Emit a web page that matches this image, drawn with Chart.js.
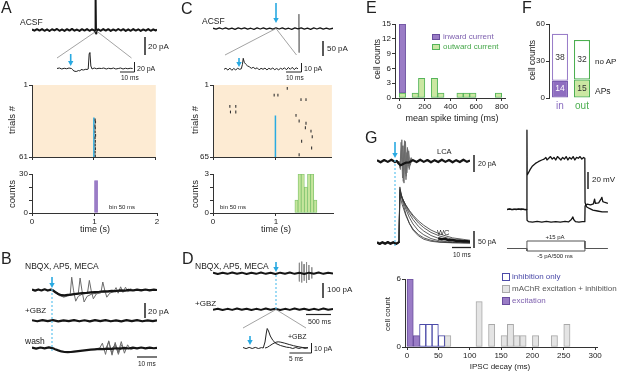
<!DOCTYPE html>
<html><head><meta charset="utf-8">
<script src="https://cdn.jsdelivr.net/npm/chart.js@4.4.1/dist/chart.umd.min.js"></script>
<style>
html,body{margin:0;padding:0;background:#fff;}
#root{position:relative;width:617px;height:375px;overflow:hidden;background:#fff;font-family:'Liberation Sans',Arial,Helvetica,sans-serif;color:#222;}
#root canvas{position:absolute;}
.t{position:absolute;white-space:nowrap;line-height:1;}
</style></head><body><div id="root"></div>
<script>
// ================= DATA =================
// ---- Panel A (ACSF, inward-current cell) ----
const aTrace = [[0,0.5],[0.04,-0.8],[0.08,0.9],[0.12,-0.6],[0.16,1.0],[0.2,-0.9],[0.24,0.7],[0.28,-1.1],[0.32,0.8],[0.36,-0.5],[0.40,1.1],[0.44,-0.9],[0.48,0.6],[0.52,-1.0],[0.56,0.9],[0.60,-0.7],[0.64,1.2],[0.68,-0.8],[0.72,0.5],[0.76,-1.0],[0.80,0.9],[0.84,-0.6],[0.88,1.0],[0.92,-0.9],[0.96,0.7],[1.0,-0.8],[1.01,-1.5],[1.015,-3],[1.02,36],[1.024,-4],[1.03,-1.5],[1.06,0.8],[1.10,-0.9],[1.14,1.0],[1.18,-0.7],[1.22,0.9],[1.26,-1.0],[1.30,0.6],[1.34,-0.8],[1.38,1.1],[1.42,-0.6],[1.46,0.9],[1.50,-1.0],[1.54,0.7],[1.58,-0.9],[1.62,1.0],[1.66,-0.7],[1.70,0.8],[1.74,-1.0],[1.78,0.6],[1.82,-0.8],[1.86,1.0],[1.90,-0.9],[1.94,0.7],[1.98,-0.6],[2.0,0.4]];
const aInset = [[0,0],[2,1],[4,-1],[6,0.5],[8,-0.5],[10,1],[12,0],[13,-2],[14,-5],[16,-6],[18,-4],[19,-5],[20,-2],[22,-3],[24,-1.5],[25,-2],[26,-1],[26.8,30],[27.4,32],[28.2,5],[29.2,-1],[31,1],[33,-0.5],[35,0.5],[37,0],[39,1],[41,-1],[43,0.5],[45,-0.5],[47,1],[49,-1],[51,0],[53,1],[55,-1],[57,0.5],[59,-0.5],[61,0.5],[63,0]];
const aStimTrials = [28, 61];
const aSpikeTimes = [1.02,1.025,1.018,1.022,1.02,1.026,1.019,1.023,1.021,1.024,1.02,1.022];
const aSpikeTrials = [30,32,35,37,40,43,45,48,51,54,57,60];
const aBinCenters = [0.975,1.025,1.075];
const aCounts = [0,25,0];
const rasterTicksA = [1,61];
const timeTicks = [0,1,2];
const countTicksA = [0,10,20,30];

// ---- Panel B ----
const bMean = [[0,0.6],[1.5,-0.8],[3,0.7],[4.5,-0.6],[6,0.9],[7.5,-0.7],[9,0.5],[10,-0.5],[11,-2.5],[12.5,-5],[14,-6.5],[15.5,-6.8],[17,-6.2],[18.5,-5.8],[20,-5.2],[22,-4.6],[24,-4],[26,-3.6],[28,-3],[30,-2.6],[32,-2.2],[34,-1.6],[36,-1.8],[38,-1],[40,-1.3],[42,-0.4],[44,-0.9],[46,0.2],[48,-0.6],[50,0.5],[52,-0.5],[54,0.6],[56,-0.4],[58,0.5],[59.5,0]];
const bSweepA = [[9.5,0],[11,-3],[13,-7],[15,-8],[16.8,-6],[18.2,-5],[18.9,16],[19.8,-1],[20.8,-14],[22,-8],[24,-5],[26.4,-4],[27.3,12],[28.2,-1],[29.2,-11],[30.6,-5],[33,-3],[36,-2],[39,-1.5],[42,-1],[46,-0.5],[50,0],[55,0.5],[59.5,0]];
const bSweepB = [[9.5,0],[11,-2],[13,-6],[15,-9],[17,-7.5],[19,-6],[22,-5],[22.9,15],[23.8,-1],[24.8,-15],[26.2,-8],[28.5,-5],[31,-4],[32.8,-3.5],[33.7,10],[34.6,0],[35.6,-9],[37,-4],[39,-2],[42,-1.5],[46,-1],[50,0],[54,0.5],[59.5,0]];
const bSweepC = [[9.5,0],[11,-2],[13,-5],[15,-7],[17,-6.5],[20,-5],[24,-4],[28,-3.5],[32,-3],[36,-2.5],[39,-2],[40,3],[41,-4],[42.2,4],[43.3,-3],[44.5,3.5],[45.6,-2],[47,1.5],[48.5,-1],[51,0],[55,0.3],[59.5,0]];
const bGBZ = [[0,0.6],[2.5,-0.7],[5,0.8],[7.5,-0.5],[10,0.7],[12.5,-0.8],[15,0.5],[17.5,-0.6],[20,0.8],[22.5,-0.7],[25,0.6],[27.5,-0.8],[30,0.7],[32.5,-0.5],[35,0.8],[37.5,-0.7],[40,0.5],[42.5,-0.8],[45,0.7],[47.5,-0.6],[50,0.8],[52.5,-0.7],[55,0.5],[57.5,-0.6],[59.5,0.4]];
const bWash = [[0,0.5],[2,-0.7],[4,0.6],[6,-0.5],[8,0.7],[10,-0.4],[11,-1.5],[12.5,-3],[14,-4.3],[15.5,-5],[17,-5.2],[18.5,-5],[20,-4.5],[22,-3.8],[24,-3.2],[26,-2.6],[28,-2],[30,-1.6],[32,-1.2],[34,-1.4],[36,-0.7],[38,-1],[40,-0.3],[42,-0.8],[44,0.2],[46,-0.6],[48,0.4],[50,-0.5],[52,0.6],[54,-0.4],[56,0.5],[58,-0.3],[59.5,0.2]];
const bWashA = [[30,-1.5],[32,-1.2],[33.5,6],[35,-8],[36.5,9],[38,-7],[39.5,5],[41,-3],[43,0],[46,-0.5]];
const bWashB = [[33,-1],[35,-1.4],[36.6,8],[38.1,-9],[39.6,7],[41.1,-8],[42.6,4],[44.1,-2],[46,0]];
const bWashC = [[36,-1],[38,-0.8],[39.5,4],[41,-6],[42.5,8],[44,-6.5],[45.5,4],[47,-2],[49,0]];

// ---- Panel C (outward-current cell) ----
const cTrace = [[0,1],[0.05,-2],[0.1,2],[0.15,-1.5],[0.2,2.5],[0.25,-2],[0.3,1.5],[0.35,-2.5],[0.4,2],[0.45,-1],[0.5,2.5],[0.55,-2],[0.6,1],[0.65,-2.5],[0.7,2],[0.75,-1.5],[0.8,2.5],[0.85,-2],[0.9,1.5],[0.95,-2],[1.0,2],[1.05,-1.5],[1.1,2.5],[1.15,-2],[1.2,1],[1.25,-2.5],[1.3,2],[1.35,-1],[1.4,2.5],[1.45,-2],[1.5,1.5],[1.55,-2.5],[1.6,2],[1.65,-1.5],[1.7,2.5],[1.75,-2],[1.8,1.5],[1.85,-2],[1.905,1]];
const cSpike = [[1.362,0],[1.364,48],[1.366,-80],[1.368,0]];
const cInset = [[0,0],[1.5,1],[3,-0.8],[4.5,1.2],[6,-1],[7.5,0.8],[9,-0.6],[10.5,1],[12,0],[13.3,0.5],[14.2,5],[14.8,11],[15.6,7],[16.8,5],[18,3.5],[19.5,2.5],[21,1],[22.5,2],[24,0.5],[25.5,1.5],[27,-0.5],[28.5,1],[30,0],[31.5,1.2],[33,-0.6],[34.5,1],[36,0],[37.5,1.3],[39,-0.4],[40.5,0.8],[42,-0.5],[43.5,1],[45,0],[46.5,1.5],[48,-0.5],[49.5,1.8],[51,0],[52.5,2],[54,-0.3],[55.5,1.5],[56.9,0.5]];
const cStimTrials = [28, 65];
const cSpikeTimes = [0.27,0.365,0.28,0.365,0.98,1.04,1.19,1.41,1.49,1.33,1.38,1.49,1.48,1.57,1.59,1.42,1.58,1.38];
const cSpikeTrials = [20,20,25,25,10,10,4,14,14,28,33,35,39,42,47,51,57,63];
const cBinCenters = [1.325,1.375,1.425,1.475,1.525,1.575,1.625];
const cCounts = [1,3,3,2,3,3,1];
const rasterTicksC = [1,65];
const timeTicksC = [0,1];
const countTicksC = [0,1,2,3];

// ---- Panel D ----
const dTrace = [[0,4],[0.1,-5],[0.2,3],[0.3,-4],[0.4,5],[0.5,-3],[0.6,4],[0.7,-5],[0.8,3],[0.9,-4],[1.0,5],[1.1,-4],[1.2,3],[1.3,-5],[1.4,4],[1.5,-3],[1.6,5],[1.7,-4],[1.8,3],[1.9,-5],[2.0,4],[2.1,-3],[2.2,5],[2.3,-4],[2.4,3],[2.5,-2]];
const dSpikes = [[1.795,0],[1.797,70],[1.799,-55],[1.801,0],[1.845,0],[1.847,78],[1.849,-62],[1.851,0],[1.895,0],[1.897,60],[1.899,-50],[1.901,0],[1.945,0],[1.947,75],[1.949,-65],[1.951,0],[1.995,0],[1.997,55],[1.999,-45],[2.001,0],[2.055,0],[2.057,40],[2.059,-35],[2.061,0]];
const dGBZ = [[0,-3],[0.1,4],[0.2,-5],[0.3,3],[0.4,-4],[0.5,5],[0.6,-3],[0.7,4],[0.8,-5],[0.9,3],[1.0,-4],[1.1,5],[1.2,-3],[1.3,4],[1.4,-5],[1.5,3],[1.6,-4],[1.7,5],[1.8,-3],[1.9,4],[2.0,-5],[2.1,3],[2.2,-4],[2.3,5],[2.4,-3],[2.5,2]];
const dInsetCtrl = [[0,0.5],[0.7,-0.6],[1.4,0.6],[2.1,-0.5],[2.8,0.6],[3.5,-0.5],[4.2,0.4],[4.6,0],[5.0,6],[5.3,15],[5.5,19.5],[5.8,17],[6.2,12],[6.8,7.5],[7.5,4.5],[8.5,2.5],[9.9,0.8],[10.6,0.5],[11.3,-0.5],[12,0.5],[12.7,-0.5],[13.4,0.4],[14.1,-0.4],[14.77,0.3]];
const dInsetGBZ = [[5.0,0],[5.5,0.6],[6,2],[6.8,4.3],[7.5,5.8],[8,6.2],[8.6,5.8],[9.5,4.8],[10.5,3.5],[11.5,2.3],[12.5,1.3],[13.6,0.5],[14.77,0.2]];

// ---- Panel E ----
const eBins = [25,125,175,275,325,475,525,575,775];
const eOutward = [1,1,4,4,1,1,1,1,1];
const eInward = [14,null,null,null,null,null,null,null,null];
const eXTicks = [0,200,400,600,800];
const eYTicks = [0,3,6,9,12,15];

// ---- Panel F ----
const fCats = ['in','out'];
const fAPs = [14,15];
const fNoAP = [38,32];
const fYTicks = [0,30,60];

// ---- Panel G ----
const gLcaBase = [[0,1],[2,-1.5],[4,1.2],[6,-1],[8,1.5],[10,-1.2],[11,0],[12,-3],[13,-5],[14,-4],[15,-3],[16,-2],[18,-1.5],[20,1],[22,-1.2],[24,1.5],[26,-1],[28,1.2],[30,-1.5],[32,1],[34,-1.2],[36,1.5],[38,-1],[40,1.2],[42,-1.5],[44,1],[46,-1.2],[48,1.5],[50,-1],[51.7,0.5]];
const gLca1 = [[12,0],[12.8,-8],[13.4,22],[14.2,-20],[15,18],[15.8,-15],[16.6,10],[17.4,-6],[18.4,2],[20,0]];
const gLca2 = [[12,0],[13,-10],[13.8,25],[14.6,-24],[15.4,20],[16.2,-18],[17,14],[17.8,-8],[18.8,3],[20,0]];
const gLca3 = [[12,0],[13.2,-6],[14.2,18],[15,-26],[15.8,23],[16.6,-14],[17.6,12],[18.5,-5],[19.3,2],[21,0]];
const gLca4 = [[12,0],[12.9,-4],[13.6,15],[14.4,-12],[15.3,24],[16.1,-22],[16.9,16],[17.9,-10],[19,4],[20,0]];
const gWcBase = [[0,2],[1.5,-2.5],[3,2],[4.5,-2],[6,2.5],[7.5,-2],[9,2],[10.5,-2.5],[12,1.5],[12.3,0]];
const gWcTail = [[34,14],[36,11],[38,12],[40,8],[42,9],[44,6],[46,7],[48,5],[50,5],[51.7,4]];
const gWc1 = [[12.2,0],[12.7,165],[14,127],[16,85],[18,57],[20,38],[23,21],[26,11],[30,5],[35,2],[42,0.5],[51.7,0]];
const gWc2 = [[12.2,0],[12.7,160],[14,132],[16,100],[18,75],[20,56],[23,36],[26,24],[30,13],[35,6],[42,2],[51.7,0.5]];
const gWc3 = [[12.2,0],[12.7,155],[14,134],[16,107],[18,86],[20,69],[23,49],[26,35],[30,22],[35,12],[42,5],[51.7,2]];
const gWc4 = [[12.2,0],[12.7,150],[14,133],[16,111],[18,93],[20,78],[23,59],[26,45],[30,31],[35,20],[42,11],[51.7,5]];
const gWc5 = [[12.2,0],[12.7,145],[14,131],[16,112],[18,96],[20,82],[23,65],[26,52],[30,38],[35,26],[42,15],[51.7,8]];
const gWc6 = [[12.2,0],[12.7,140],[14,113],[16,81],[18,58],[20,41],[23,25],[26,15],[30,8],[35,3],[42,1],[51.7,0]];
const gVdep = [[0,-70],[20,-69.4],[40,-70.5],[60,-69.7],[80,-70.4],[100,-69.6],[120,-70.5],[140,-69.8],[160,-70.3],[171,-70],[172,23],[173.5,-30],[185,-27],[200,-23],[220,-19],[245,-16],[270,-14],[300,-12],[320,-11],[335,-9],[345,-12],[360,-10],[375,-8],[390,-11],[405,-9],[420,-12],[435,-8],[450,-10],[465,-12],[480,-9],[495,-11],[510,-8],[525,-12],[540,-9],[555,-11],[570,-8],[585,-12],[600,-9],[615,-10],[630,-8],[645,-11],[660,-9],[671,-10],[673,-62],[685,-67],[710,-69],[740,-71],[780,-72],[820,-73],[870,-73]];
const gVhyp = [[0,-70.3],[25,-69.8],[50,-70.4],[75,-69.7],[100,-70.2],[125,-69.6],[150,-70.3],[171,-70],[173,-83],[185,-84.5],[220,-85],[260,-84.3],[300,-85],[340,-84.2],[380,-85],[420,-84.4],[460,-85],[500,-84.3],[530,-84.8],[555,-82],[568,-79],[575,-82],[590,-84.6],[620,-85],[650,-84.4],[671,-84.6],[673,-66],[690,-64],[720,-64.8],[745,-63.5],[755,-58],[762,-63],[790,-62.5],[810,-58],[818,-56],[826,-61],[845,-62],[870,-63]];
const gIplus = [[0,0],[172,0],[172,15],[672,15],[672,0],[870,0]];
const gIminus = [[172,0],[172,-5],[672,-5],[672,0]];
const gExcX = [5,15];
const gExc = [6,1];
const gInhX = [25,35,45,55];
const gInh = [2,2,2,1];
const gMX = [65,115,135,155,165,175,185,205,235,255];
const gM = [1,4,2,1,2,1,1,1,1,2];
const gXTicks = [0,50,100,150,200,250,300];
const gYTicks = [0,6];

// ================= STYLE / HELPERS =================
const FONT = "'Liberation Sans', Arial, Helvetica, sans-serif";
Chart.defaults.font.family = FONT;
Chart.defaults.font.size = 8;
Chart.defaults.color = '#222';
Chart.defaults.animation = false;
Chart.defaults.responsive = false;
Chart.defaults.maintainAspectRatio = false;
Chart.defaults.devicePixelRatio = 1;
Chart.defaults.events = [];
Chart.defaults.plugins.legend.display = false;
Chart.defaults.plugins.tooltip.enabled = false;
Chart.defaults.elements.point.radius = 0;
Chart.defaults.elements.line.tension = 0;

const PURPLE = '#9a7cc6', PURPLE_D = '#6a4e9e';
const GREEN = '#cbe7a2', GREEN_D = '#55b45a';
const CYAN = '#29abe2', PEACH = '#fdebd3';
const BLACK = '#151515', GREY = '#6a6a6a';
const root = document.getElementById('root');

function mk(box, m, cfg) {
  const c = document.createElement('canvas');
  const W = box.w + m.l + m.r, H = box.h + m.t + m.b;
  c.width = W; c.height = H;
  c.style.cssText = `left:${box.x - m.l}px;top:${box.y - m.t}px;width:${W}px;height:${H}px;`;
  root.appendChild(c);
  return new Chart(c, cfg);
}
const pts = a => a.map(p => ({x: p[0], y: p[1]}));
const ln = (a, color, w, extra) => Object.assign({data: pts(a), borderColor: color, borderWidth: w, pointRadius: 0, fill: false, tension: 0, borderJoinStyle: 'round'}, extra || {});
function trace(box, xr, yr, datasets) {
  return mk(box, {l:0, r:0, t:0, b:0}, {type: 'line', data: {datasets}, options: {
    layout: {padding: 0},
    scales: {x: {type: 'linear', display: false, min: xr[0], max: xr[1]},
             y: {type: 'linear', display: false, min: yr[0], max: yr[1]}}
  }});
}
function axis(o) {
  return {
    type: 'linear', min: o.min, max: o.max, reverse: !!o.reverse, offset: false,
    grid: {display: true, drawOnChartArea: false, drawTicks: true, tickLength: 3, color: '#333', lineWidth: 1, offset: false},
    border: {display: true, color: '#333', width: 1},
    ticks: {padding: 1, color: '#222', font: {size: 8}, maxRotation: 0, autoSkip: false,
      callback: o.labels ? (v => (o.labels.includes(v) ? String(v) : '')) : (v => String(v))},
    afterBuildTicks: s => { s.ticks = o.ticks.map(v => ({value: v})); },
    afterFit: s => { if (s.isHorizontal()) s.height = o.size; else s.width = o.size; }
  };
}
function axChart(box, m, cfg) {
  cfg.options = cfg.options || {};
  cfg.options.layout = {padding: {left: 0, top: m.t, right: m.r, bottom: 0}};
  return mk(box, m, cfg);
}
const bgPlugin = color => ({id: 'bg', beforeDraw(chart) {
  const {ctx, chartArea: a} = chart; ctx.save(); ctx.fillStyle = color;
  ctx.fillRect(a.left, a.top, a.right - a.left, a.bottom - a.top); ctx.restore();
}});
const barDs = (xs, ys, bg, bd, extra) => Object.assign({
  data: xs.map((x, i) => ({x, y: ys[i]})), backgroundColor: bg, borderColor: bd, borderWidth: 1,
  borderSkipped: false, barPercentage: 1, categoryPercentage: 1}, extra || {});

// ================= PANEL A =================
trace({x:32, y:0, w:125, h:56}, [0, 2], [-28.9, 33.3], [ln(aTrace, BLACK, 2)]);
trace({x:57, y:48, w:76, h:28}, [0, 63.3], [-15, 41], [ln(aInset, '#222', 1)]);
axChart({x:32, y:85, w:125, h:72}, {l:28, r:4, t:6, b:6}, {
  type: 'scatter',
  data: {datasets: [
    {data: aSpikeTimes.map((t, i) => ({x: t, y: aSpikeTrials[i]})), showLine: false, pointStyle: 'line', pointRotation: 90, pointRadius: 1.4, pointBorderColor: '#333', pointBorderWidth: 1.2},
    {data: [{x: 1, y: aStimTrials[0]}, {x: 1, y: aStimTrials[1]}], showLine: true, borderColor: CYAN, borderWidth: 1.5, pointRadius: 0}
  ]},
  options: {scales: {x: axis({min: 0, max: 2, ticks: timeTicks, labels: [], size: 6}),
                     y: axis({min: 1, max: 61, reverse: true, ticks: rasterTicksA, size: 28})}},
  plugins: [bgPlugin(PEACH)]
});
axChart({x:32, y:174, w:125, h:39}, {l:28, r:6, t:6, b:14}, {
  type: 'bar',
  data: {datasets: [barDs(aBinCenters, aCounts, PURPLE, PURPLE, {borderWidth: 0.5})]},
  options: {scales: {x: axis({min: 0, max: 2, ticks: timeTicks, size: 14}),
                     y: axis({min: 0, max: 30, ticks: countTicksA, labels: [0, 30], size: 28})}}
});

// ================= PANEL B =================
trace({x:32, y:270, w:125, h:36}, [0, 59.5], [-20, 25], [
  ln(bMean, BLACK, 2.2), ln(bSweepA, GREY, 1), ln(bSweepB, GREY, 1), ln(bSweepC, GREY, 1)]);
trace({x:32, y:314, w:125, h:14}, [0, 59.5], [-9.1, 8.4], [ln(bGBZ, BLACK, 2.2)]);
trace({x:32, y:336, w:125, h:24}, [0, 59.5], [-15, 15], [
  ln(bWash, BLACK, 2.2), ln(bWashA, GREY, 1), ln(bWashB, GREY, 1), ln(bWashC, GREY, 1)]);

// ================= PANEL C =================
trace({x:213, y:0, w:120, h:58}, [0, 1.905], [-98, 95], [ln(cTrace, BLACK, 1.3), ln(cSpike, '#777', 1)]);
trace({x:224, y:55, w:74, h:21}, [0, 56.9], [-6.7, 14.3], [ln(cInset, '#222', 1)]);
axChart({x:213, y:85, w:120, h:72}, {l:28, r:4, t:6, b:6}, {
  type: 'scatter',
  data: {datasets: [
    {data: cSpikeTimes.map((t, i) => ({x: t, y: cSpikeTrials[i]})), showLine: false, pointStyle: 'line', pointRotation: 90, pointRadius: 1.4, pointBorderColor: '#333', pointBorderWidth: 1.1},
    {data: [{x: 1, y: cStimTrials[0]}, {x: 1, y: cStimTrials[1]}], showLine: true, borderColor: CYAN, borderWidth: 1.5, pointRadius: 0}
  ]},
  options: {scales: {x: axis({min: 0, max: 1.905, ticks: timeTicksC, labels: [], size: 6}),
                     y: axis({min: 1, max: 65, reverse: true, ticks: rasterTicksC, size: 28})}},
  plugins: [bgPlugin(PEACH)]
});
axChart({x:213, y:174, w:120, h:39}, {l:28, r:4, t:6, b:14}, {
  type: 'bar',
  data: {datasets: [barDs(cBinCenters, cCounts, '#c6e59c', '#7dc36b', {borderWidth: 0.8})]},
  options: {scales: {x: axis({min: 0, max: 1.905, ticks: timeTicksC, size: 14}),
                     y: axis({min: 0, max: 3, ticks: countTicksC, labels: [0, 3], size: 28})}}
});

// ================= PANEL D =================
trace({x:213, y:256, w:120, h:36}, [0, 2.5], [-125, 115], [ln(dTrace, BLACK, 2), ln(dSpikes, '#8a8a8a', 1)]);
trace({x:213, y:302, w:120, h:14}, [0, 2.5], [-45, 49], [ln(dGBZ, BLACK, 2)]);
trace({x:243, y:322, w:65, h:34}, [0, 14.77], [-8, 26], [ln(dInsetCtrl, '#222', 1), ln(dInsetGBZ, '#222', 1)]);

// ================= PANEL E =================
axChart({x:395, y:24, w:110, h:74}, {l:20, r:9, t:6, b:14}, {
  type: 'bar',
  data: {datasets: [
    barDs(eBins, eOutward, GREEN, GREEN_D, {stack: 'e'}),
    barDs(eBins, eInward, PURPLE, PURPLE_D, {stack: 'e'})
  ]},
  options: {scales: {x: axis({min: -33, max: 826, ticks: eXTicks, size: 14}),
                     y: Object.assign(axis({min: 0, max: 15, ticks: eYTicks, size: 20}), {stacked: true})}}
});

// ================= PANEL F =================
const fLabelPlugin = {id: 'flabels', afterDatasetsDraw(chart) {
  const ctx = chart.ctx; ctx.save();
  ctx.font = `8.5px ${FONT}`; ctx.textAlign = 'center'; ctx.textBaseline = 'middle';
  chart.data.datasets.forEach((ds, di) => {
    chart.getDatasetMeta(di).data.forEach((el, i) => {
      ctx.fillStyle = (di === 0 && i === 0) ? '#ffffff' : '#333';
      ctx.fillText(String(ds.data[i]), el.x, (el.y + el.base) / 2);
    });
  });
  ctx.restore();
}};
axChart({x:549, y:24, w:44, h:74}, {l:20, r:4, t:6, b:22}, {
  type: 'bar',
  data: {labels: fCats, datasets: [
    {data: fAPs, backgroundColor: ['#8e6dc0', '#cbe7a2'], borderColor: ['#7a5bb0', '#4caf50'], borderWidth: 1.2, borderSkipped: false, barPercentage: 0.73, categoryPercentage: 1},
    {data: fNoAP, backgroundColor: '#ffffff', borderColor: ['#9a7ec9', '#4caf50'], borderWidth: 1.2, borderSkipped: false, barPercentage: 0.73, categoryPercentage: 1}
  ]},
  options: {scales: {
    x: {type: 'category', stacked: true, grid: {display: false, drawTicks: false, tickLength: 0}, border: {display: false},
        ticks: {padding: 2, font: {size: 10}, color: c => (c.index === 0 ? '#8a6cc0' : '#4caf50')},
        afterFit: s => { s.height = 22; }},
    y: Object.assign(axis({min: 0, max: 60, ticks: fYTicks, size: 20}), {stacked: true})
  }},
  plugins: [fLabelPlugin]
});

// ================= PANEL G =================
trace({x:377, y:127, w:93, h:63}, [0, 51.67], [-34.1, 40], [
  ln(gLcaBase, BLACK, 2.2), ln(gLca1, GREY, 0.9), ln(gLca2, GREY, 0.9), ln(gLca3, GREY, 0.9), ln(gLca4, GREY, 0.9)]);
trace({x:377, y:183, w:93, h:64}, [0, 51.67], [-11.8, 176.5], [
  ln(gWcBase, BLACK, 2.4), ln(gWcTail, BLACK, 2.4),
  ln(gWc1, '#333', 0.8), ln(gWc2, '#333', 0.8), ln(gWc3, '#333', 0.8),
  ln(gWc4, '#333', 0.8), ln(gWc5, '#333', 0.8), ln(gWc6, '#333', 0.8)]);
trace({x:507, y:127, w:101, h:101}, [0, 870.7], [-92, 26.8], [ln(gVdep, BLACK, 1.3), ln(gVhyp, BLACK, 1.3)]);
trace({x:507, y:236, w:101, h:18}, [0, 870.7], [-11, 25], [ln(gIplus, '#555', 1), ln(gIminus, '#555', 1)]);
axChart({x:405, y:279, w:192, h:68}, {l:14, r:12, t:6, b:14}, {
  type: 'bar',
  data: {datasets: [
    barDs(gExcX, gExc, PURPLE, PURPLE_D, {stack: 'g'}),
    barDs(gInhX, gInh, '#ffffff', '#4b4aa8', {stack: 'g'}),
    barDs(gMX, gM, '#e4e4e4', '#a9a9a9', {stack: 'g'})
  ]},
  options: {scales: {x: axis({min: -3.2, max: 303, ticks: gXTicks, size: 14}),
                     y: Object.assign(axis({min: 0, max: 6, ticks: gYTicks, size: 14}), {stacked: true})}}
});

// ================= ANNOTATIONS (connectors, scale bars, arrows) =================
const sv = [];
function L(x1, y1, x2, y2, c, w, dash) {
  sv.push(`<line x1="${x1}" y1="${y1}" x2="${x2}" y2="${y2}" stroke="${c}" stroke-width="${w}"${dash ? ` stroke-dasharray="${dash}"` : ''}/>`);
}
function arrow(x, y1, y2) {
  L(x, y1, x, y2 - 4, '#29a9e1', 1.6);
  sv.push(`<polygon points="${x - 2.7},${y2 - 5} ${x + 2.7},${y2 - 5} ${x},${y2}" fill="#29a9e1"/>`);
}
const CG = '#8c8c8c', SB = '#222';
L(96.5, 31, 57, 58, CG, 0.8); L(96.5, 31, 131.5, 58, CG, 0.8);
L(276, 28.5, 225, 55, CG, 0.8); L(276, 28.5, 296.5, 55, CG, 0.8);
L(276, 309.5, 243, 328, CG, 0.8); L(276, 309.5, 306, 328, CG, 0.8);
L(52, 289, 52, 351, '#5fc3ee', 1.2, '2,2');
L(276, 275, 276, 309, '#5fc3ee', 1.2, '2,2');
L(395, 160, 395, 247, '#5fc3ee', 1.2, '2,2');
L(145, 37, 145, 55, SB, 1.5);
L(134.5, 62, 134.5, 72, SB, 1); L(120, 72, 134.5, 72, SB, 1);
L(145, 303, 145, 318, SB, 1.5); L(137, 357, 157, 357, SB, 1.2);
L(323, 41, 323, 56, SB, 1.5);
L(301.5, 63, 301.5, 72, SB, 1); L(286, 72, 301.5, 72, SB, 1);
L(323, 283, 323, 298, SB, 1.5); L(306, 314.5, 331, 314.5, SB, 1.2);
L(311.5, 343, 311.5, 353, SB, 1); L(289.5, 353, 311.5, 353, SB, 1);
L(474, 155, 474, 172, SB, 1.5); L(474, 231, 474, 248, SB, 1.5);
L(452, 247.5, 471, 247.5, SB, 1.3); L(588, 172, 588, 189, SB, 1.5);
arrow(70.7, 54, 66); arrow(52, 277, 288); arrow(276, 3, 23); arrow(239, 58, 67);
arrow(276, 262, 272); arrow(250, 336, 345); arrow(395, 142, 158);
root.insertAdjacentHTML('beforeend', `<svg width="617" height="375" style="position:absolute;left:0;top:0;pointer-events:none">${sv.join('')}</svg>`);

// ================= TEXT =================
function T(txt, x, y, size, o) {
  o = o || {};
  const d = document.createElement('div');
  d.className = 't'; d.textContent = txt;
  let tr = o.c ? 'translate(-50%,-50%)' : 'translate(0,-50%)';
  if (o.rot) tr = 'translate(-50%,-50%) rotate(-90deg)';
  d.style.cssText = `left:${x}px;top:${y}px;font-size:${size}px;color:${o.col || '#222'};transform:${tr};`;
  root.appendChild(d);
}
function SQ(x, y, w, h, fill, stroke) {
  const d = document.createElement('div');
  d.style.cssText = `position:absolute;left:${x}px;top:${y}px;width:${w}px;height:${h}px;background:${fill};border:1px solid ${stroke};box-sizing:border-box;`;
  root.appendChild(d);
}
// A
T('A', 1, 8, 16); T('ACSF', 20, 22, 8.5);
T('20 pA', 148, 47, 8); T('20 pA', 137, 68, 7); T('10 ms', 121, 77.5, 6.5);
T('trials #', 12, 120, 9.5, {rot: 1}); T('counts', 12, 194, 9.5, {rot: 1});
T('bin 50 ms', 109, 207, 6); T('time (s)', 95, 229, 9, {c: 1});
// B
T('B', 1, 258.5, 16); T('NBQX, AP5, MECA', 25, 266, 8.5);
T('20 pA', 148, 312, 8); T('+GBZ', 25, 311, 8); T('wash', 25, 340.5, 8.5); T('10 ms', 138, 363.5, 6.5);
// C
T('C', 181, 9, 16); T('ACSF', 202, 21, 8.5); T('50 pA', 327, 49, 8);
T('10 pA', 304, 68, 7); T('10 ms', 286, 77.5, 6.5);
T('trials #', 195, 120, 9.5, {rot: 1}); T('counts', 195, 194, 9.5, {rot: 1});
T('bin 50 ms', 220, 207, 6); T('time (s)', 276, 229, 9, {c: 1});
// D
T('D', 182, 258.5, 16); T('NBQX, AP5, MECA', 195, 266, 8.5);
T('100 pA', 327, 290, 8); T('+GBZ', 195, 304, 8); T('500 ms', 308, 321, 7);
T('+GBZ', 288, 336, 7); T('10 pA', 314, 348, 7); T('5 ms', 289, 359, 6.5);
// E
T('E', 366, 7.5, 16);
SQ(432, 34, 8, 6, PURPLE, PURPLE_D); T('inward current', 443, 37, 8, {col: '#7d5fae'});
SQ(432, 44, 8, 6, GREEN, GREEN_D); T('outward current', 443, 47, 8, {col: '#47a84b'});
T('cell counts', 377, 59, 8.5, {rot: 1}); T('mean spike timing (ms)', 452, 118, 9, {c: 1});
// F
T('F', 522, 8, 16); T('cell counts', 532, 60, 8.5, {rot: 1});
T('no AP', 595, 62, 8); T('APs', 595, 91, 8.5);
// G
T('G', 365, 137.5, 16);
T('LCA', 437, 152, 7.5); T('20 pA', 478, 163, 7); T('WC', 437, 233, 7.5); T('50 pA', 478, 241, 7);
T('10 ms', 453, 255, 6.5); T('20 mV', 592, 180, 8);
T('+15 pA', 555, 236.5, 6, {c: 1}); T('-5 pA/500 ms', 555, 256, 6, {c: 1});
SQ(502, 273, 8, 8, '#ffffff', '#4b4aa8'); T('inhibition only', 512, 277, 8, {col: '#4b4aa8'});
SQ(502, 285, 8, 8, '#e4e4e4', '#a9a9a9'); T('mAChR excitation + inhibition', 512, 289, 8, {col: '#555'});
SQ(502, 297, 8, 8, PURPLE, PURPLE_D); T('excitation', 512, 301, 8, {col: '#7d5fae'});
T('cell count', 388, 314, 8, {rot: 1}); T('IPSC decay (ms)', 500, 367, 8, {c: 1});
</script></body></html>
